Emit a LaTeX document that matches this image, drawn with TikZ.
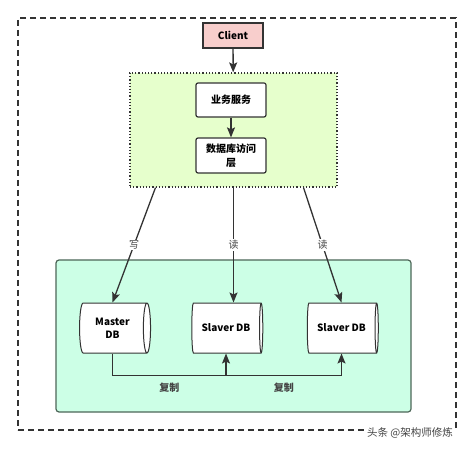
\documentclass[tikz,border=0pt]{standalone}
\usepackage{fontspec}
\setmainfont{Noto Sans CJK SC}
\usetikzlibrary{shapes.geometric,arrows.meta,calc}
\definecolor{linegray}{HTML}{333333}
\definecolor{clientred}{HTML}{F8CECC}
\definecolor{appgreen}{HTML}{E6FFCC}
\definecolor{dbgreen}{HTML}{CCFFE6}
\definecolor{dbborder}{HTML}{4D6658}
\definecolor{labelgray}{HTML}{444444}
\begin{document}
\begin{tikzpicture}[x=1pt, y=-1pt,
    zone/.style={rectangle, draw=linegray, line width=1.2pt, inner sep=0pt},
    box/.style={rectangle, draw=linegray, fill=white, rounded corners=2pt, line width=1.2pt, minimum width=70pt, minimum height=34pt, text width=64pt, align=center, inner sep=1pt, font=\bfseries\fontsize{10}{14}\selectfont},
    db/.style={cylinder, draw=linegray, fill=white, line width=1pt, minimum width=50pt, minimum height=71pt, aspect=0.32, inner sep=1pt, align=center, font=\bfseries\fontsize{10}{13}\selectfont},
    arrow/.style={-{Stealth[length=10pt,width=8pt,inset=2pt]}, line width=1.3pt, draw=linegray},
    tag/.style={fill=white, inner sep=1pt, text=labelgray, font=\fontsize{10}{12}\selectfont},
    copytag/.style={inner sep=1pt, text=labelgray, font=\bfseries\fontsize{10}{12}\selectfont}
]
    \useasboundingbox (0,0) rectangle (474,449);

    % outer frame and the two zones
    \node[zone, dashed, dash pattern=on 6pt off 4pt, minimum width=438pt, minimum height=412pt] (frame) at (237,224) {};
    \node[zone, dotted, fill=appgreen, minimum width=207pt, minimum height=114pt] (app) at (233.5,130) {};
    \node[zone, draw=dbborder, fill=dbgreen, rounded corners=3pt, minimum width=355pt, minimum height=152pt] (dbzone) at (233.5,336) {};

    \node[box, fill=clientred, minimum width=60pt, minimum height=25pt, text width=54pt, rounded corners=0pt] (client) at (233,35.5) {Client};
    \node[box] (svc) at (231,100) {业务服务};
    \node[box, minimum height=35pt] (dal) at (231,155.5) {数据库访问\\层};

    \node[db] (master) at (112.5,328) {Master\\DB};
    \node[db] (slave1) at (226,328) {Slaver DB};
    \node[db] (slave2) at (341.5,328) {Slaver DB};

    \draw[arrow] (client) -- (app);
    \draw[arrow] (svc) -- (dal);

    \draw[arrow] ([xshift=-78pt]app.south) -- node[tag, pos=0.5] {写} (master.north);
    \draw[arrow] (app.south) -- node[tag, pos=0.5] {读} (app.south |- slave1.north);
    \draw[arrow] ([xshift=70pt]app.south) -- node[tag, pos=0.5] {读} (slave2.north);

    % replication bus
    \coordinate (bus) at ([yshift=-22pt]master.south);
    \draw[arrow] (master.south) -- (bus) -| (slave2.south);
    \draw[arrow] (bus -| slave1.south) -- (slave1.south);
    \node[copytag] (copy1) at ($(bus)!0.5!(bus -| slave1.south)+(0,12)$) {复制};
    \node[copytag] (copy2) at ($(bus -| slave1.south)!0.5!(bus -| slave2.south)+(0,12)$) {复制};

    \node[fill=white, inner sep=1pt, text=labelgray, font=\fontsize{10.5}{12}\selectfont] (mark) at (410,433) {头条 @架构师修炼};
\end{tikzpicture}
\end{document}
